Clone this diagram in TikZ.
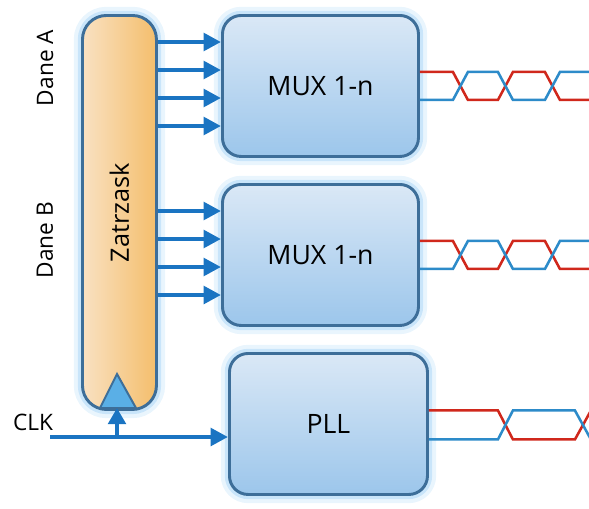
\documentclass[tikz,border=0pt]{standalone}
\usepackage{fontspec}
\setmainfont{Open Sans}
\usetikzlibrary{arrows.meta,calc}

\definecolor{boxline}{HTML}{3D6E99}
\definecolor{glowblue}{HTML}{A9D6F7}
\definecolor{muxtop}{HTML}{DAE8F6}
\definecolor{muxbot}{HTML}{9CC6EB}
\definecolor{latchleft}{HTML}{F9E1C2}
\definecolor{latchright}{HTML}{F4BE6C}
\definecolor{busblue}{HTML}{1A74C2}
\definecolor{trigblue}{HTML}{5AAFE6}
\definecolor{wred}{HTML}{D0281C}
\definecolor{wblue}{HTML}{2D8BC9}

\tikzset{
    glow/.style={preaction={draw=glowblue,line width=13pt,opacity=0.25},
        preaction={draw=glowblue,line width=7pt,opacity=0.5}},
    block/.style={draw=boxline,line width=2.2pt,rounded corners=14pt,glow,
        top color=muxtop,bottom color=muxbot,anchor=north west,
        minimum width=147pt,minimum height=105.75pt,inner sep=0pt,
        font=\fontsize{20}{24}\selectfont},
    bus/.style={draw=busblue,line width=3.2pt,-{Triangle[length=13pt,width=13pt]}},
    wavered/.style={draw=wred,line width=1.9pt},
    waveblue/.style={draw=wblue,line width=1.9pt},
    label/.style={font=\fontsize{17}{20}\selectfont}
}

\begin{document}
\begin{tikzpicture}[x=0.75pt,y=-0.75pt]
    \useasboundingbox (0,0) rectangle (589,508);
    %% latch
    \node[draw=boxline,line width=2.2pt,rounded corners=18pt,glow,
        left color=latchleft,right color=latchright,anchor=north west,
        minimum width=55.5pt,minimum height=295.5pt] (latch) at (81,14) {};
    \node[rotate=90,font=\fontsize{19}{22}\selectfont] (latchtext) at (latch.center) {Zatrzask};
    \draw[draw=boxline,line width=1.5pt,fill=trigblue] (100,408) -- (117,374) -- (136,408) -- cycle;
    \coordinate (trig) at (117,408);
    %% multiplexers and pll
    \node[block] (mux1) at (221,14) {MUX 1-n};
    \node[block] (mux2) at (221,183) {MUX 1-n};
    \node[block,minimum width=148.5pt] (pll) at (228,352) {PLL};
    %% data inputs
    \node[label,rotate=90] (danea) at (45,68) {Dane A};
    \node[label,rotate=90] (daneb) at (45,240) {Dane B};
    \foreach \y in {42,70,98,126}
        \draw[bus] (latch.east |- 0,\y) -- (mux1.west |- 0,\y);
    \foreach \y in {211,239,267,295}
        \draw[bus] (latch.east |- 0,\y) -- (mux2.west |- 0,\y);
    %% clock
    \node[label] (clklabel) at (33,422) {CLK};
    \coordinate (clk) at (50,437);
    \coordinate (tap) at (117,437);
    \draw[bus] (clk) -- (clk -| pll.west);
    \draw[bus,-{Triangle[length=12pt,width=13pt]}] (tap) -- (trig);
    %% output waves
    \foreach \m in {mux1,mux2} {
        \draw[wavered] ($(\m.east)+(0,-14)$) -- ++(33,0) -- ++(15,28) -- ++(30,0)
            -- ++(15,-28) -- ++(32,0) -- ++(15,28) -- ++(32,0);
        \draw[waveblue] ($(\m.east)+(0,14)$) -- ++(33,0) -- ++(15,-28) -- ++(30,0)
            -- ++(15,28) -- ++(32,0) -- ++(15,-28) -- ++(32,0);
    }
    \draw[wavered] ($(pll.east)+(0,-13.5)$) -- ++(69,0) -- ++(15,29) -- ++(62,0) -- ++(16,-29);
    \draw[waveblue] ($(pll.east)+(0,15.5)$) -- ++(69,0) -- ++(15,-29) -- ++(62,0) -- ++(16,29);
\end{tikzpicture}
\end{document}
